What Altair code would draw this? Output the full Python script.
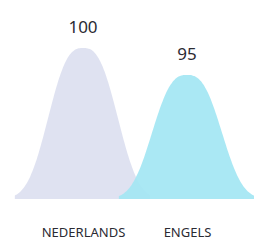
import json
import altair as alt
import pandas as pd

# Data
CATEGORIES = ["NEDERLANDS", "ENGELS"]
VALUES = [100, 95]
COLORS = ["#dcdff0", "#a3e6f3"]
BASELINE = 72  # value axis starts here (truncated axis)

df = pd.DataFrame({
    "cat": CATEGORIES,
    "value": VALUES,
    "idx": list(range(len(CATEGORIES))),
})

base = alt.Chart(df)

x_scale = alt.Scale(domain=[-0.721, 1.644], nice=False, zero=False)
y_scale = alt.Scale(domain=[BASELINE, 107.42], nice=False, zero=False)

curves = base.transform_calculate(
    t="sequence(-0.655, 0.6551, 0.0125)"
).transform_flatten(["t"]).transform_calculate(
    xx="datum.idx + datum.t",
    yy=f"{BASELINE} + (datum.value - {BASELINE}) * exp(-pow(abs(datum.t) / 0.4, 2.7))",
    y0=f"{BASELINE}",
).mark_area(opacity=0.92, interpolate="monotone").encode(
    x=alt.X("xx:Q", scale=x_scale,
            axis=alt.Axis(values=list(range(len(CATEGORIES))),
                          labelExpr=f"{json.dumps(CATEGORIES)}[round(datum.value)]",
                          ticks=False, domain=False, grid=False, title=None,
                          labelPadding=37, labelBaseline="alphabetic",
                          labelFont="Noto Sans", labelFontSize=13,
                          labelColor="#2b2b33")),
    y=alt.Y("yy:Q", scale=y_scale, axis=None),
    y2="y0:Q",
    color=alt.Color("cat:N", scale=alt.Scale(domain=CATEGORIES, range=COLORS), legend=None),
    order=alt.Order("idx:Q"),
)

labels = base.mark_text(
    dy=-15, baseline="alphabetic", align="center",
    font="Noto Sans", fontSize=17, color="#2b2b33"
).encode(
    x=alt.X("idx:Q", scale=x_scale),
    y=alt.Y("value:Q", scale=y_scale),
    text=alt.Text("value:Q"),
)

chart = alt.layer(curves, labels).properties(
    width=246, height=191,
    autosize=alt.AutoSizeParams(type="none"),
    padding={"left": 0, "top": 0, "right": 0, "bottom": 45},
).configure_view(stroke=None)

chart.save("out.html", embed_options={"renderer": "svg", "actions": False})
